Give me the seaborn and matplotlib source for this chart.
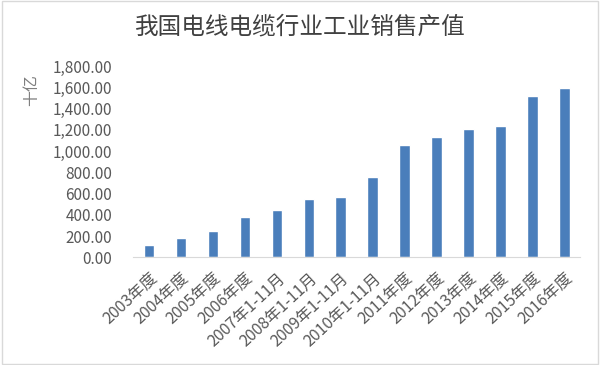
import matplotlib
matplotlib.use("Agg")
import matplotlib.pyplot as plt
import seaborn as sns
import pandas as pd
from matplotlib.ticker import FuncFormatter

periods = ["2003年度", "2004年度", "2005年度", "2006年度", "2007年1-11月",
           "2008年1-11月", "2009年1-11月", "2010年1-11月", "2011年度",
           "2012年度", "2013年度", "2014年度", "2015年度", "2016年度"]
values = [118, 178, 248, 382, 448, 552, 572, 760, 1060, 1136, 1211, 1240, 1521, 1590]

df = pd.DataFrame({"period": periods, "value": values})

sns.set_style("white")
plt.rcParams["font.family"] = ["Noto Sans CJK SC", "DejaVu Sans"]

fig = plt.figure(figsize=(6, 3.65), dpi=100)
ax = fig.add_axes([0.222, 0.295, 0.745, 0.524])

sns.barplot(data=df, x="period", y="value", color="#4a7ebb", width=0.33,
            saturation=1, ax=ax)

ax.set_ylim(0, 1800)
ax.set_yticks(range(0, 1801, 200))
ax.yaxis.set_major_formatter(FuncFormatter(lambda v, p: f"{v:,.2f}"))
ax.set_xlim(-0.5, len(periods) - 0.5)
ax.set_xlabel("")
ax.set_ylabel("")

for s in ["top", "right", "left"]:
    ax.spines[s].set_visible(False)
ax.spines["bottom"].set_color("#d9d9d9")
ax.spines["bottom"].set_linewidth(0.8)

ax.tick_params(axis="y", length=0, colors="#595959", labelsize=11, pad=15)
ax.tick_params(axis="x", length=0, colors="#595959", labelsize=11.5, pad=9)
plt.setp(ax.get_xticklabels(), rotation=43, ha="right", rotation_mode="anchor")

fig.text(0.5, 0.925, "我国电线电缆行业工业销售产值", ha="center", va="center",
         fontsize=17, color="#404040")
fig.text(0.053, 0.753, "十亿", ha="center", va="center", rotation=90,
         fontsize=11.5, color="#7f7f7f")

# outer frame
fig.patches.append(plt.Rectangle((0.003, 0.003), 0.994, 0.994, transform=fig.transFigure,
                                 fill=False, edgecolor="#d9d9d9", linewidth=1))

fig.savefig("out.png", dpi=100)
